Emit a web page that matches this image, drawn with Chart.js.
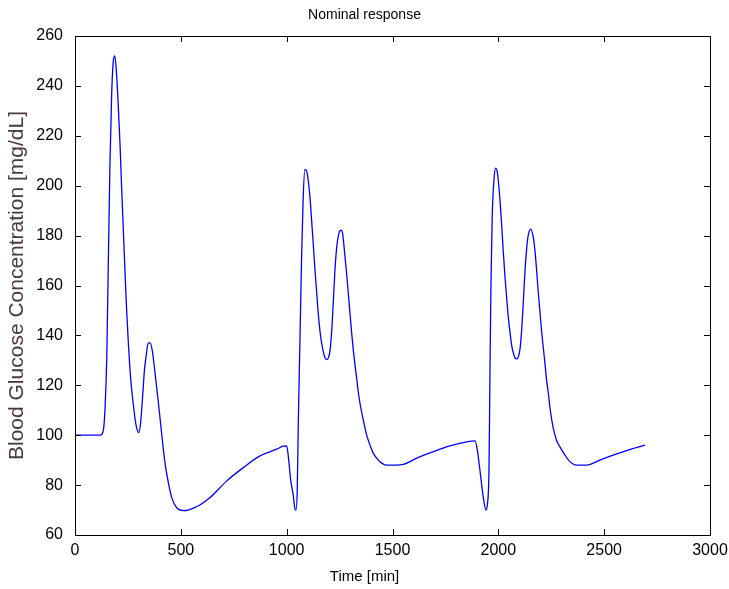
<!DOCTYPE html>
<html>
<head>
<meta charset="utf-8">
<script src="https://cdn.jsdelivr.net/npm/chart.js@4.4.0/dist/chart.umd.min.js"></script>
<style>
html, body { margin: 0; padding: 0; background: #fff; }
</style>
</head>
<body>
<canvas id="nominalResponse" width="729" height="589"></canvas>
<script>
// time axis [min] and glucose [mg/dL]
var time_min = [
    0, 120, 134, 142, 150, 157, 165, 173, 181, 188, 197, 205, 213, 220, 228, 236, 244, 252,
    260, 268, 276, 283, 291, 301, 310, 319, 328, 335, 346, 354, 365, 378, 386, 394, 409,
    425, 441, 457, 480, 512, 535, 560, 590, 638, 716, 795, 874, 953, 984, 1000,
    1008, 1019, 1031, 1039, 1044, 1050, 1055, 1063, 1071, 1078, 1086, 1094, 1102, 1110,
    1118, 1126, 1134, 1142, 1149, 1157, 1165, 1173, 1181, 1189, 1197, 1205, 1213, 1220,
    1228, 1236, 1247, 1257, 1264, 1275, 1283, 1291, 1299, 1307, 1315, 1323, 1331, 1338,
    1346, 1362, 1378, 1394, 1409, 1425, 1449, 1472, 1520, 1551, 1583, 1614, 1693, 1771,
    1850, 1890, 1901, 1913, 1929, 1942, 1948, 1956, 1960, 1965, 1971, 1979, 1987, 1996,
    2008, 2016, 2023, 2031, 2039, 2047, 2055, 2063, 2071, 2079, 2087, 2095, 2103, 2111,
    2119, 2126, 2134, 2141, 2153, 2165, 2173, 2181, 2188, 2196, 2204, 2212, 2220, 2228,
    2236, 2244, 2259, 2275, 2291, 2315, 2338, 2370, 2417, 2480, 2543, 2606, 2693
];
var glucose = [
    100, 100, 102, 111, 131, 167, 208, 236, 250, 252, 244, 231, 216, 200, 183, 166, 150, 137,
    126, 118, 112, 107, 103, 101, 105, 115, 126, 131, 137, 137, 134, 125, 119, 113, 101,
    89, 81, 75, 71, 69.8, 70, 70.8, 72, 75, 81.6, 87, 91.7, 94.4, 95.6, 95.7,
    91.4, 82, 76, 70.5, 70, 78, 105, 139, 173, 195, 206.5, 206, 202, 195.5,
    186, 176, 166, 157, 149, 142, 137, 133.5, 131, 130.3, 131, 134, 142, 153,
    166, 175, 181, 182.2, 181, 172, 165, 157, 149, 141, 134, 128, 122.5, 117.5,
    113, 106, 100, 96, 92.8, 90.8, 88.8, 88, 88, 88.3, 89.4, 90.8, 93.4, 95.7,
    97.3, 97.7, 94, 86, 75, 70, 72, 87, 121, 159.5, 187.5, 202, 207, 205,
    194, 184, 174, 164, 155.4, 147.4, 141.4, 136, 133, 131, 130.6, 131.5, 135, 143,
    155, 166, 175, 180, 182.6, 179.4, 174, 166, 158, 150, 142, 135.4, 129, 122,
    117, 111, 103, 98, 95.3, 92, 89.4, 88, 88, 90, 92, 93.8, 96
];
var x_range = [0, 3000];
var x_step = 500;
var y_range = [60, 260];
var y_step = 20;

var plot_title = 'Nominal response';
var x_label = 'Time [min]';
var y_label = 'Blood Glucose Concentration [mg/dL]';

var sans = '"Liberation Sans", Arial, sans-serif';

// matlab style box with inward ticks on all four sides, plus title and x label
var matlab_axes = {
    id: 'matlabAxes',
    afterDraw: function (chart) {
        'use strict';
        var ctx = chart.ctx;
        var a = chart.chartArea;
        var xs = chart.scales.x;
        var ys = chart.scales.y;
        var tl = 6;

        ctx.save();
        ctx.strokeStyle = '#000';
        ctx.lineWidth = 1;
        ctx.beginPath();
        xs.ticks.forEach(function (t) {
            var px = Math.round(xs.getPixelForValue(t.value)) + 0.5;
            ctx.moveTo(px, a.bottom);
            ctx.lineTo(px, a.bottom - tl);
            ctx.moveTo(px, a.top);
            ctx.lineTo(px, a.top + tl);
        });
        ys.ticks.forEach(function (t) {
            var py = Math.round(ys.getPixelForValue(t.value)) + 0.5;
            ctx.moveTo(a.left, py);
            ctx.lineTo(a.left + tl, py);
            ctx.moveTo(a.right, py);
            ctx.lineTo(a.right - tl, py);
        });
        ctx.stroke();
        ctx.strokeRect(Math.round(a.left) + 0.5, Math.round(a.top) + 0.5,
            Math.round(a.right - a.left), Math.round(a.bottom - a.top));

        ctx.fillStyle = '#000';
        ctx.textAlign = 'center';
        ctx.textBaseline = 'middle';
        ctx.font = '14px ' + sans;
        ctx.fillText(plot_title, chart.width / 2, 15);
        ctx.font = '15px ' + sans;
        ctx.fillText(x_label, chart.width / 2, 577);
        ctx.restore();
    }
};

var data = {
    datasets: [
        {
            label: 'Glucose',
            data: time_min.map(function (t, i) { return {x: t, y: glucose[i]}; }),
            borderColor: '#0000ff',
            borderWidth: 1.3,
            pointRadius: 0,
            fill: false,
            cubicInterpolationMode: 'monotone'
        }
    ]
};

var ctx = document.getElementById('nominalResponse');

var glucoseChart = new Chart(ctx, {
    type: 'line',
    data: data,
    plugins: [matlab_axes],
    options: {
        responsive: false,
        animation: false,
        devicePixelRatio: 1,
        layout: {
            padding: {top: 36, right: 19, left: 0, bottom: 0}
        },
        plugins: {
            legend: {display: false},
            title: {display: false},
            tooltip: {enabled: false}
        },
        scales: {
            x: {
                type: 'linear',
                min: x_range[0],
                max: x_range[1],
                grid: {display: false, drawTicks: false},
                border: {display: false},
                ticks: {
                    stepSize: x_step,
                    color: '#000',
                    padding: 6,
                    maxRotation: 0,
                    font: {family: sans, size: 16},
                    callback: function (v) { return String(v); }
                },
                afterFit: function (scale) {
                    scale.height = 54;
                    scale.paddingLeft = 0;
                    scale.paddingRight = 0;
                }
            },
            y: {
                type: 'linear',
                min: y_range[0],
                max: y_range[1],
                grid: {display: false, drawTicks: false},
                border: {display: false},
                ticks: {
                    stepSize: y_step,
                    color: '#000',
                    padding: 12,
                    font: {family: sans, size: 16},
                    callback: function (v) { return String(v); }
                },
                title: {
                    display: true,
                    text: y_label,
                    color: '#4b3a3a',
                    padding: {top: 5, bottom: 4},
                    font: {family: sans, size: 21}
                },
                afterFit: function (scale) {
                    scale.width = 75;
                    scale.paddingTop = 0;
                    scale.paddingBottom = 0;
                }
            }
        }
    }
});
</script>
</body>
</html>
